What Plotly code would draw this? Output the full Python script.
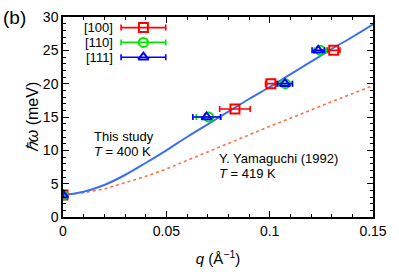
import plotly.graph_objects as go

# ---- data ----
q_100 = [0.0, 0.0832, 0.1006, 0.1310]
w_100 = [3.3, 16.2, 20.0, 25.0]
e_100 = [0.0, 0.0074, 0.0026, 0.0030]

q_110 = [0.0, 0.0705, 0.1076, 0.1245]
w_110 = [3.3, 15.0, 20.0, 25.0]
e_110 = [0.0, 0.0060, 0.0035, 0.0030]

q_111 = [0.0, 0.0695, 0.1074, 0.1235]
w_111 = [3.3, 15.0, 20.0, 25.0]
e_111 = [0.0, 0.0067, 0.0036, 0.0030]

q_curve = [0.0, 0.01, 0.02, 0.03, 0.04, 0.05, 0.06, 0.07, 0.08,
           0.09, 0.10, 0.11, 0.12, 0.13, 0.14, 0.15]
w_this = [3.3, 3.8, 4.8, 6.3, 8.1, 10.0, 12.0, 13.9, 15.8,
          17.7, 19.5, 21.4, 23.3, 25.2, 27.0, 28.9]
w_yama = [3.3, 3.65, 4.2, 5.1, 6.1, 7.2, 8.5, 9.8, 11.1,
          12.3, 13.6, 14.8, 16.1, 17.3, 18.5, 19.7]

series_names = ["[100]", "[110]", "[111]"]
series_colors = ["#ff0000", "#00e600", "#0000ff"]
series_symbols = ["square-open", "circle-open", "triangle-up-open"]

FONT = "Liberation Sans, Arial, Helvetica, sans-serif"

fig = go.Figure()

fig.add_trace(go.Scatter(x=q_curve, y=w_yama, mode="lines",
                         line=dict(color="#ff7043", width=1.6, dash="dot"),
                         showlegend=False, hoverinfo="skip"))
fig.add_trace(go.Scatter(x=q_curve, y=w_this, mode="lines", line_shape="spline",
                         line=dict(color="#3b6ff0", width=2),
                         showlegend=False, hoverinfo="skip"))

datasets = [(q_100, w_100, e_100), (q_110, w_110, e_110), (q_111, w_111, e_111)]
for (qq, ww, ee), name, col, sym in zip(datasets, series_names, series_colors, series_symbols):
    fig.add_trace(go.Scatter(
        x=qq, y=ww, mode="markers", name=name,
        marker=dict(symbol=sym, size=9, color=col, line=dict(color=col, width=2)),
        error_x=dict(type="data", array=ee, visible=True, color=col,
                     thickness=1.6, width=3),
        showlegend=False))

# ---- custom legend (labels on the left of the samples) ----
leg_y = [0.947, 0.873, 0.799]
leg_xc = 0.2594
leg_half = 0.0721
for name, col, sym, yy in zip(series_names, series_colors, series_symbols, leg_y):
    fig.add_trace(go.Scatter(
        x=[leg_xc], y=[yy], xaxis="x2", yaxis="y2", mode="markers",
        marker=dict(symbol=sym, size=9, color=col, line=dict(color=col, width=2)),
        error_x=dict(type="constant", value=leg_half, visible=True, color=col,
                     thickness=1.6, width=3),
        showlegend=False, hoverinfo="skip"))
    fig.add_annotation(x=0.165, y=yy, xref="paper", yref="paper", text=name,
                       showarrow=False, xanchor="right", yanchor="middle",
                       borderpad=0,
                       font=dict(family=FONT, size=13, color="black"))

# ---- text annotations ----
text_items = [
    (0.0145, 12.04, "This study"),
    (0.0145, 9.84, "<i>T</i> = 400 K"),
    (0.0752, 8.82, "Y. Yamaguchi (1992)"),
    (0.0752, 6.60, "<i>T</i> = 419 K"),
]
for xx, yy, tt in text_items:
    fig.add_annotation(x=xx, y=yy, text=tt, showarrow=False, borderpad=0,
                       xanchor="left", yanchor="middle",
                       font=dict(family=FONT, size=13, color="black"))
fig.add_annotation(x=-0.2, y=1.0, xref="paper", yref="paper", text="(b)",
                   showarrow=False, xanchor="left", yanchor="middle",
                   font=dict(family=FONT, size=19, color="black"))

axis_common = dict(showline=True, linecolor="black", linewidth=1.5, mirror="ticks",
                   ticks="inside", ticklen=6, tickwidth=1, tickcolor="black",
                   showgrid=False, zeroline=False, automargin=False,
                   tickfont=dict(family=FONT, size=14, color="black"))

fig.update_layout(
    width=399, height=279,
    margin=dict(l=63, r=26, t=17, b=62),
    paper_bgcolor="white", plot_bgcolor="white",
    font=dict(family=FONT, size=14, color="black"),
    xaxis=dict(range=[0, 0.15], tickvals=[0, 0.05, 0.1, 0.15],
               ticktext=["0", "0.05", "0.1", "0.15"],
               minor=dict(dtick=0.01, ticks="inside", ticklen=3, tickcolor="black"),
               title=dict(text="<i>q</i> (Å<sup>−1</sup>)", standoff=16,
                          font=dict(family=FONT, size=15)),
               **axis_common),
    yaxis=dict(range=[0, 30], dtick=5,
               minor=dict(dtick=1, ticks="inside", ticklen=3, tickcolor="black"),
               title=dict(text="<i>ℏω</i> (meV)", standoff=0,
                          font=dict(family=FONT, size=16)),
               **axis_common),
    xaxis2=dict(range=[0, 1], overlaying="x", visible=False, fixedrange=True),
    yaxis2=dict(range=[0, 1], overlaying="y", visible=False, fixedrange=True),
    showlegend=False,
)

fig.write_html("out.html",
               config={"displayModeBar": False},
               post_script="document.body.style.margin='0px';"
                           "document.body.style.overflow='hidden';")
